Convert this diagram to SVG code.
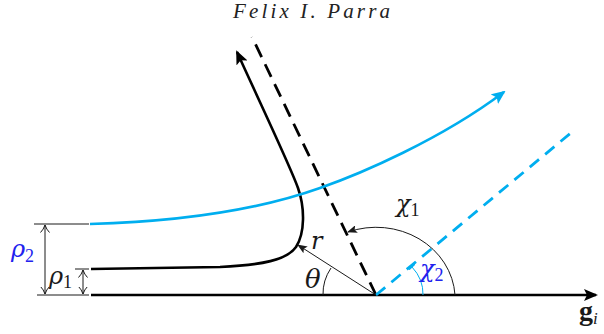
<svg xmlns="http://www.w3.org/2000/svg" width="604" height="334" viewBox="0 0 604 334">
<style>
.m{font-family:"DejaVu Serif","Liberation Serif",serif;font-style:italic;fill:#1a1a1a}
.s{font-family:"Liberation Serif",serif;font-style:normal}
.b{fill:#2222ee}
.thin{fill:none;stroke:#1a1a1a;stroke-width:1}
.thick{fill:none;stroke:#000;stroke-width:2.6}
</style>
<defs>
<marker id="ah" viewBox="0 0 14 12" refX="12" refY="6" markerWidth="14" markerHeight="12" markerUnits="userSpaceOnUse" orient="auto"><path d="M0,0 L14,6 L0,12 L3,6 Z" fill="#000"/></marker>
<marker id="ahc" viewBox="0 0 14 12" refX="12" refY="6" markerWidth="14" markerHeight="12" markerUnits="userSpaceOnUse" orient="auto"><path d="M0,0 L14,6 L0,12 L3,6 Z" fill="#00aeef"/></marker>
<marker id="sm" viewBox="0 0 10 8" refX="9" refY="4" markerWidth="10" markerHeight="8" markerUnits="userSpaceOnUse" orient="auto"><path d="M0,0 L10,4 L0,8 L2,4 Z" fill="#1a1a1a"/></marker>
<marker id="smc" viewBox="0 0 8 8" refX="1" refY="4" markerWidth="8" markerHeight="8" markerUnits="userSpaceOnUse" orient="auto"><path d="M1,0 L1,8" stroke="#00aeef" stroke-width="1.2"/></marker>
<marker id="op" viewBox="0 0 8 10" refX="7.5" refY="5" markerWidth="8" markerHeight="10" markerUnits="userSpaceOnUse" orient="auto-start-reverse"><path d="M0,0.5 Q3,3.5 7.5,5 Q3,6.5 0,9.5" fill="none" stroke="#1a1a1a" stroke-width="1"/></marker>
</defs>

<text x="233" y="18" font-family="Liberation Serif,serif" font-style="italic" font-size="21" fill="#222" textLength="157" lengthAdjust="spacing">Felix I. Parra</text>

<g id="connectors">
  <path class="thick" d="M91,295 L596,295" stroke-width="3" marker-end="url(#ah)"/>
  <path d="M376,295 L252,37" fill="none" stroke="#000" stroke-width="2.8" stroke-dasharray="14 8"/>
  <path d="M376,295 L572,132" fill="none" stroke="#00aeef" stroke-width="2.8" stroke-dasharray="12 8"/>
  <path class="thick" d="M91,269 L220,267 C262,265 287,260 296,247 C305,233 305,208 298,188 C291,168 268,120 237,52" marker-end="url(#ah)"/>
  <path d="M90,224 C200,221 275,204 320,188 C360,174 440,140 504,92" fill="none" stroke="#00aeef" stroke-width="2.6" marker-end="url(#ahc)"/>
  <path class="thin" d="M376,295 L298,245" marker-end="url(#sm)"/>
  <path class="thin" d="M323,295 A53,49 0 0 1 331,268"/>
  <path class="thin" d="M455,295 A79,72 0 0 0 348,232" marker-end="url(#sm)"/>
  <path d="M423,295 A47,42 0 0 0 412,267" fill="none" stroke="#00aeef" stroke-width="1" marker-end="url(#smc)"/>
  <path class="thin" d="M34,224 L89,224 M37,295 L89,295 M75,269 L89,269"/>
  <path class="thin" d="M45,225 L45,294" marker-start="url(#op)" marker-end="url(#op)"/>
  <path class="thin" d="M83,270 L83,294" marker-start="url(#op)" marker-end="url(#op)"/>
</g>

<g id="labels">
  <text class="m b" x="11" y="257" font-size="24">ρ<tspan class="s" font-size="18" dy="5">2</tspan></text>
  <text class="m" x="49" y="284" font-size="24">ρ<tspan class="s" font-size="18" dy="4">1</tspan></text>
  <text class="m" x="396" y="212" font-size="24">χ<tspan class="s" font-size="18" dy="4">1</tspan></text>
  <text class="m b" x="420" y="277" font-size="24">χ<tspan class="s" font-size="18" dy="4">2</tspan></text>
  <text class="m" x="311" y="249" font-size="24">r</text>
  <text class="m" x="305" y="288" font-size="26">θ</text>
  <text x="579" y="320" font-family="Liberation Serif,serif" font-weight="bold" font-size="28" fill="#1a1a1a">g<tspan font-style="italic" font-weight="normal" font-size="17" dy="4">i</tspan></text>
</g>
</svg>
